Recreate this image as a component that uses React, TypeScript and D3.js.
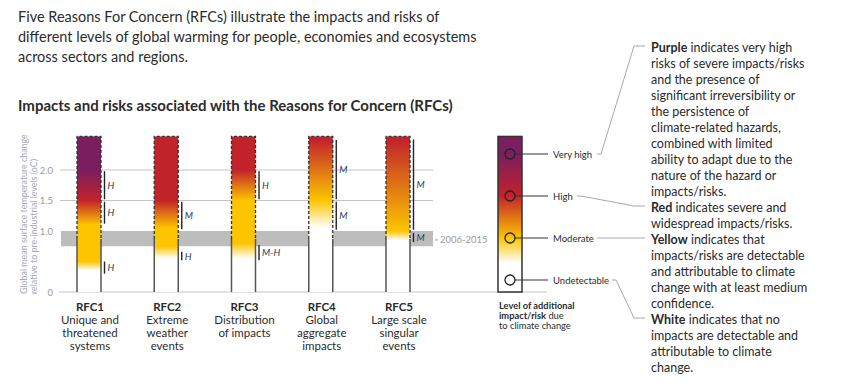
import React, { useEffect, useRef } from 'react';
import * as d3 from 'd3';

const titleLines = [
  'Five Reasons For Concern (RFCs) illustrate the impacts and risks of',
  'different levels of global warming for people, economies and ecosystems',
  'across sectors and regions.',
];
const subtitle = 'Impacts and risks associated with the Reasons for Concern (RFCs)';
const yTitle = ['Global mean surface temperature change', 'relative to pre-industrial levels (oC)'];

const rfcIds = ['RFC1', 'RFC2', 'RFC3', 'RFC4', 'RFC5'];
const rfcNames = [
  ['Unique and', 'threatened', 'systems'],
  ['Extreme', 'weather', 'events'],
  ['Distribution', 'of impacts'],
  ['Global', 'aggregate', 'impacts'],
  ['Large scale', 'singular', 'events'],
];
// [warming °C, risk level 0=undetectable 1=moderate 2=high 3=very high]
const rfcRisk = [
  [[0.35, 0], [0.5, 1], [1.1, 1], [1.5, 2], [2.0, 3]],
  [[0.55, 0], [0.75, 1], [1.05, 1], [1.5, 2]],
  [[0.55, 0], [0.8, 1], [1.5, 1], [2.0, 2]],
  [[1.05, 0], [1.5, 1], [2.5, 2]],
  [[0.85, 0], [1.0, 1], [2.5, 2]],
];
// [from °C, to °C, confidence]
const rfcConfidence = [
  [[0.3, 0.5, 'H'], [1.12, 1.48, 'H'], [1.52, 1.98, 'H']],
  [[0.52, 0.66, 'H'], [1.03, 1.48, 'M']],
  [[0.52, 0.77, 'M-H'], [1.52, 1.98, 'H']],
  [[1.02, 1.48, 'M'], [1.52, 2.49, 'M']],
  [[0.82, 0.97, 'M'], [1.02, 2.5, 'M']],
];
const barTop = 2.55;
const yTicks = [0, 1.0, 1.5, 2.0];
const gridTicks = [1.5, 2.0];
const observedRange = [0.75, 1.0];
const observedMean = 0.87;
const observedLabel = '2006-2015';

const legendLevels = ['Undetectable', 'Moderate', 'High', 'Very high'];
const legendCaption = [
  [['Level of additional', true]],
  [['impact/risk', true], [' due', false]],
  [['to climate change', false]],
];
const notes = [
  [['Purple', true], [' indicates very high', false]],
  [['risks of severe impacts/risks', false]],
  [['and the presence of', false]],
  [['significant irreversibility or', false]],
  [['the persistence of', false]],
  [['climate-related hazards,', false]],
  [['combined with limited', false]],
  [['ability to adapt due to the', false]],
  [['nature of the hazard or', false]],
  [['impacts/risks.', false]],
  [['Red', true], [' indicates severe and', false]],
  [['widespread impacts/risks.', false]],
  [['Yellow', true], [' indicates that', false]],
  [['impacts/risks are detectable', false]],
  [['and attributable to climate', false]],
  [['change with at least medium', false]],
  [['confidence.', false]],
  [['White', true], [' indicates that no', false]],
  [['impacts are detectable and', false]],
  [['attributable to climate', false]],
  [['change.', false]],
];
// note line each legend level points to
const noteTargets = [17, 12, 10, 0];

const FONT = 'Lato, "Open Sans", sans-serif';
const C = { text: '#2b2b2b', muted: '#9a9a9a', axisTitle: '#9fa9b8', grid: '#c4c4c4', band: '#bdbdbd', conf: '#2f3a58', leader: '#a8a8a8' };
const levelColor = d3.scaleLinear<string>().domain([0, 1, 2, 3]).range(['#ffffff', '#fcc500', '#c2232b', '#7a1e5f']);

export default function App() {
  const ref = useRef<SVGSVGElement>(null);
  useEffect(() => {
    document.body.style.margin = '0';
    const W = 848, H = 391;
    const svg = d3.select(ref.current);
    svg.selectAll('*').remove();
    svg.attr('width', W).attr('height', H).attr('font-family', FONT);
    const defs = svg.append('defs');

    // header
    svg.append('g').selectAll('text').data(titleLines).join('text')
      .attr('x', 18).attr('y', (d, i) => 22 + i * 20).attr('font-size', 14.5).attr('fill', C.text).text(d => d);
    svg.append('text').attr('x', 18).attr('y', 111).attr('font-size', 15).attr('font-weight', 700).attr('fill', C.text).text(subtitle);

    const y = d3.scaleLinear().domain([0, 2]).range([292, 170]);
    const x = d3.scalePoint().domain(rfcIds).range([89, 398]);
    const bw = 24;
    const bandL = 61, bandR = 433;

    // observed band + grid
    svg.append('rect').attr('x', bandL).attr('width', bandR - bandL)
      .attr('y', y(observedRange[1])).attr('height', y(observedRange[0]) - y(observedRange[1])).attr('fill', C.band);
    svg.append('g').selectAll('line').data(gridTicks).join('line')
      .attr('x1', 60).attr('x2', bandR).attr('y1', d => y(d)).attr('y2', d => y(d)).attr('stroke', C.grid).attr('stroke-width', 1);
    svg.append('line').attr('x1', 59).attr('x2', 547).attr('y1', y(0)).attr('y2', y(0)).attr('stroke', C.grid).attr('stroke-width', 1.2);
    svg.append('g').selectAll('text').data(yTicks).join('text')
      .attr('x', 53).attr('y', d => y(d) + 3.5).attr('text-anchor', 'end').attr('font-size', 9.5).attr('fill', C.muted)
      .text(d => (d === 0 ? '0' : d3.format('.1f')(d)));
    svg.append('line').attr('x1', 435).attr('x2', 438).attr('y1', y(observedMean) + 1).attr('y2', y(observedMean) + 1).attr('stroke', C.muted);
    svg.append('text').attr('x', 440).attr('y', y(observedMean) + 4.5).attr('font-size', 9.5).attr('fill', C.muted).text(observedLabel);

    // y title
    svg.append('g').selectAll('text').data(yTitle).join('text')
      .attr('transform', (d, i) => `translate(${27 + i * 10},294) rotate(-90)`)
      .attr('font-size', 8.9).attr('fill', C.axisTitle).text(d => d);

    // bars
    rfcIds.forEach((id, i) => {
      const cx = x(id)!, x0 = cx - bw / 2, x1 = cx + bw / 2;
      const grad = defs.append('linearGradient').attr('id', `g${i}`).attr('gradientUnits', 'userSpaceOnUse')
        .attr('x1', 0).attr('x2', 0).attr('y1', y(0)).attr('y2', y(barTop));
      const stops = rfcRisk[i];
      grad.append('stop').attr('offset', 0).attr('stop-color', levelColor(stops[0][1]));
      stops.forEach(s => grad.append('stop').attr('offset', s[0] / barTop).attr('stop-color', levelColor(s[1])));
      grad.append('stop').attr('offset', 1).attr('stop-color', levelColor(stops[stops.length - 1][1]));
      svg.append('rect').attr('x', x0).attr('width', bw).attr('y', y(barTop)).attr('height', y(0) - y(barTop)).attr('fill', `url(#g${i})`);
      const dashed = d3.path();
      dashed.moveTo(x0, y(observedMean)); dashed.lineTo(x0, y(barTop)); dashed.lineTo(x1, y(barTop)); dashed.lineTo(x1, y(observedMean));
      svg.append('path').attr('d', dashed.toString()).attr('fill', 'none').attr('stroke', '#333').attr('stroke-width', 1.3).attr('stroke-dasharray', '3,2');
      [x0, x1].forEach(xx => svg.append('line').attr('x1', xx).attr('x2', xx).attr('y1', y(observedMean)).attr('y2', y(0))
        .attr('stroke', '#555').attr('stroke-width', 1.5));

      rfcConfidence[i].forEach(([a, b, lab]) => {
        const lx = x1 + 3.5;
        svg.append('line').attr('x1', lx).attr('x2', lx).attr('y1', y(b as number)).attr('y2', y(a as number)).attr('stroke', '#222').attr('stroke-width', 1.4);
        svg.append('text').attr('x', lx + 3).attr('y', (y(a as number) + y(b as number)) / 2 + 3.5)
          .attr('font-size', 9.5).attr('font-style', 'italic').attr('fill', C.conf).text(lab as string);
      });

      const t = svg.append('text').attr('text-anchor', 'middle').attr('fill', C.text);
      t.append('tspan').attr('x', cx + 1).attr('y', 311).attr('font-size', 11.5).attr('font-weight', 700).text(id);
      rfcNames[i].forEach((n, j) => t.append('tspan').attr('x', cx + 1).attr('y', 324 + j * 13).attr('font-size', 11.5).text(n));
    });

    // legend bar
    const ly = d3.scaleLinear().domain([0, 3]).range([280, 154]);
    const lx0 = 498, lw = 24, lcx = lx0 + lw / 2;
    const lg = defs.append('linearGradient').attr('id', 'lg').attr('gradientUnits', 'userSpaceOnUse')
      .attr('x1', 0).attr('x2', 0).attr('y1', y(0)).attr('y2', y(barTop));
    const lgStops: [number, number][] = [[y(0), 0], [ly(0.4), 0], [ly(1), 1], [ly(2), 2], [ly(3), 3], [y(barTop), 3]];
    lgStops.forEach(([py, lv]) => lg.append('stop').attr('offset', (y(0) - py) / (y(0) - y(barTop))).attr('stop-color', levelColor(lv)));
    svg.append('rect').attr('x', lx0).attr('width', lw).attr('y', y(barTop)).attr('height', y(0) - y(barTop))
      .attr('fill', 'url(#lg)').attr('stroke', '#333').attr('stroke-width', 1.5);
    legendLevels.forEach((lab, i) => {
      const cy = ly(i);
      svg.append('line').attr('x1', lcx + 5).attr('x2', 548).attr('y1', cy).attr('y2', cy).attr('stroke', '#333').attr('stroke-width', 1);
      svg.append('circle').attr('cx', lcx).attr('cy', cy).attr('r', 5).attr('fill', i === 0 ? '#fff' : 'none').attr('stroke', '#222').attr('stroke-width', 1.3);
      svg.append('text').attr('x', 553).attr('y', cy + 3.5).attr('font-size', 9.5).attr('fill', C.text).text(lab);
    });
    const cap = svg.append('text').attr('font-size', 9.3).attr('fill', C.text);
    legendCaption.forEach((parts, j) => {
      const line = cap.append('tspan').attr('x', 499).attr('y', 309 + j * 10);
      parts.forEach(([s, b]) => line.append('tspan').attr('font-weight', b ? 700 : 400).text(s as string));
    });

    // notes
    const noteY = (j: number) => 51.5 + j * 16;
    const nt = svg.append('text').attr('font-size', 12.5).attr('fill', C.text);
    notes.forEach((parts, j) => {
      const line = nt.append('tspan').attr('x', 651).attr('y', noteY(j));
      parts.forEach(([s, b]) => line.append('tspan').attr('font-weight', b ? 700 : 400).text(s as string));
    });

    // leader lines from legend labels to notes
    const labelEnds = [612, 597, 577, 597];
    noteTargets.forEach((nj, i) => {
      const cy = ly(i), ty = noteY(nj) - 5.5;
      const bend = labelEnds[i] + 4;
      const pts: [number, number][] = [[labelEnds[i], cy], [bend, cy], [634, ty], [645, ty]];
      svg.append('path').attr('d', d3.line()(pts)).attr('fill', 'none').attr('stroke', C.leader).attr('stroke-width', 1);
    });
  }, []);
  return <svg ref={ref} />;
}
